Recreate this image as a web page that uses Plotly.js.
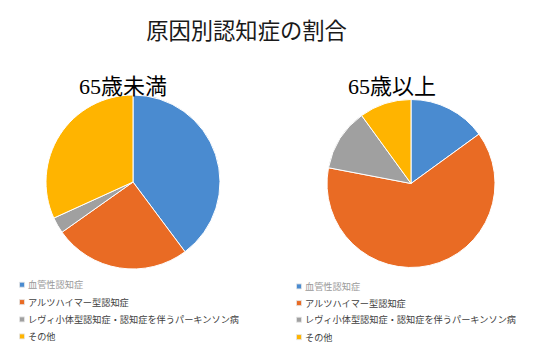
<!DOCTYPE html>
<html>
<head>
<meta charset="utf-8">
<script src="https://cdn.plot.ly/plotly-3.0.1.min.js"></script>
<style>
html,body{margin:0;padding:0;background:#fff;}
#chart{width:547px;height:357px;}
</style>
</head>
<body>
<div id="chart"></div>
<script>
// ---- data ----
const chartTitle = '原因別認知症の割合';
const groupTitles = ['65歳未満', '65歳以上'];
const categories = [
  '血管性認知症',
  'アルツハイマー型認知症',
  'レヴィ小体型認知症・認知症を伴うパーキンソン病',
  'その他'
];
const under65 = [39.8, 25.4, 3.0, 31.8];
const over65 = [15, 63, 12, 10];
const sliceColors = ['#4a8bd0', '#e96b24', '#a0a0a0', '#ffb400'];

const W = 547, H = 357;
const jp = 'Noto Sans CJK JP, Noto Sans, sans-serif';

function dom(cx, cy, r) {
  return {
    x: [(cx - r) / W, (cx + r) / W],
    y: [(H - cy - r) / H, (H - cy + r) / H]
  };
}
function subTitle(s) {
  return s.replace(/^(\d+)/, '<span style="font-family:Liberation Serif, Times New Roman, serif">$1</span>');
}

const common = {
  type: 'pie',
  labels: categories,
  sort: false,
  direction: 'clockwise',
  rotation: 0,
  textinfo: 'none',
  hoverinfo: 'label+percent',
  marker: {colors: sliceColors, line: {color: '#ffffff', width: 1}}
};

const data = [
  Object.assign({}, common, {values: under65, domain: dom(133, 182, 87),
    legend: 'legend', legendgroup: 'young'}),
  Object.assign({}, common, {values: over65, domain: dom(411, 183.5, 84),
    legend: 'legend2', legendgroup: 'old'})
];

const legendBase = {
  orientation: 'v',
  xanchor: 'left', yanchor: 'top',
  bgcolor: 'rgba(0,0,0,0)',
  borderwidth: 0,
  font: {family: jp, size: 9.2, color: '#404040'},
  tracegroupgap: 0
};

const layout = {
  width: W, height: H,
  margin: {l: 0, r: 0, t: 0, b: 0, autoexpand: false},
  paper_bgcolor: '#ffffff',
  plot_bgcolor: '#ffffff',
  showlegend: true,
  title: {
    text: chartTitle,
    font: {family: jp, size: 22.3, color: '#1a1a1a'},
    x: 246.5 / W, xanchor: 'center',
    y: 1 - 31 / H, yanchor: 'middle',
    xref: 'paper', yref: 'container'
  },
  legend: Object.assign({}, legendBase, {x: 0, y: (H - 272) / H}),
  legend2: Object.assign({}, legendBase, {x: 265 / W, y: (H - 274) / H}),
  annotations: [
    {text: subTitle(groupTitles[0]), x: 123 / W, y: (H - 84) / H, xref: 'paper', yref: 'paper',
     xanchor: 'center', yanchor: 'middle', showarrow: false,
     font: {family: jp, size: 22, color: '#000000'}},
    {text: subTitle(groupTitles[1]), x: 392 / W, y: (H - 84) / H, xref: 'paper', yref: 'paper',
     xanchor: 'center', yanchor: 'middle', showarrow: false,
     font: {family: jp, size: 22, color: '#000000'}}
  ]
};

// legend fine-tuning targets (text left x, text centre y per item)
const legendTargets = {
  legend: {tx: 28, yc: [284.3, 301.7, 319, 336]},
  legend2: {tx: 305, yc: [286, 302.7, 319.3, 336.7]}
};

function tweakLegends(gd) {
  const gdRect = gd.getBoundingClientRect();
  Object.keys(legendTargets).forEach(id => {
    try {
      const tgt = legendTargets[id];
      const lg = gd.querySelector('g.infolayer g.' + id);
      if (!lg) return;
      lg.querySelectorAll('[clip-path]').forEach(el => el.removeAttribute('clip-path'));
      const items = lg.querySelectorAll('g.traces');
      items.forEach((item, i) => {
        const txt = item.querySelector('text');
        if (!txt) return;
        const tr = (item.getAttribute('transform') || '').match(/translate\(\s*([-\d.e]+)[ ,]+([-\d.e]+)/);
        let a = tr ? parseFloat(tr[1]) : 0, b = tr ? parseFloat(tr[2]) : 0;
        const bb = txt.getBoundingClientRect();
        const dx = tgt.tx - (bb.left - gdRect.left);
        const dy = tgt.yc[i] - ((bb.top + bb.bottom) / 2 - gdRect.top);
        item.setAttribute('transform', 'translate(' + (a + dx) + ',' + (b + dy) + ')');
        const tX = parseFloat(txt.getAttribute('x') || '40');
        item.querySelectorAll('path.legendpie').forEach(p => {
          p.setAttribute('transform', 'translate(' + (tX - 6) + ',0) scale(0.42)');
          p.style.strokeWidth = '2px';
          p.style.stroke = '#e6e6e6';
        });
        if (i === 0) txt.style.fill = '#9a9a9a';
      });
    } catch (e) { /* keep default legend if anything fails */ }
  });
}

const gd = document.getElementById('chart');
Plotly.newPlot(gd, data, layout, {staticPlot: true, displayModeBar: false}).then(() => {
  tweakLegends(gd);
});
</script>
</body>
</html>
